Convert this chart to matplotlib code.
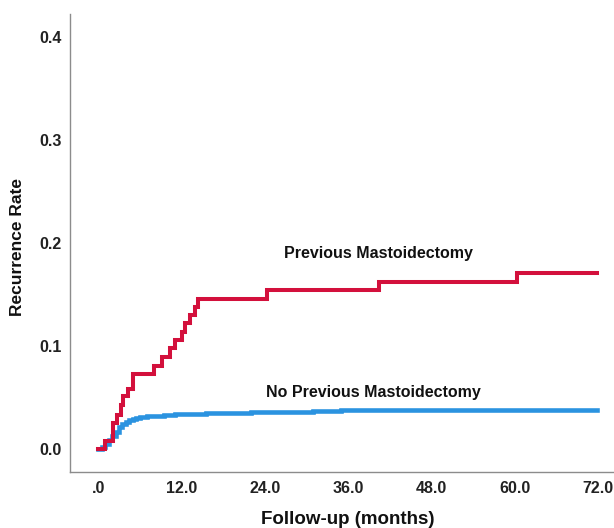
import matplotlib
matplotlib.use("Agg")
import matplotlib.pyplot as plt

plt.rcParams['font.family'] = ['Liberation Sans', 'DejaVu Sans']

# Previous Mastoidectomy (cumulative recurrence, step function)
red_t = [0, 0.98, 2.18, 2.67, 3.29, 3.62, 4.34, 5.06, 8.04, 9.15, 10.35, 11.07,
         12.03, 12.5, 13.2, 13.9, 14.4, 24.3, 40.5, 60.3, 71.9]
red_v = [0, 0.008, 0.025, 0.033, 0.043, 0.051, 0.058, 0.073, 0.081, 0.089, 0.098,
         0.106, 0.114, 0.122, 0.130, 0.138, 0.146, 0.154, 0.162, 0.171, 0.171]

# No Previous Mastoidectomy
blue_t = [0, 0.5, 1.0, 1.5, 2.0, 2.5, 3.0, 3.5, 4.0, 4.5, 5.0, 5.5, 6.0, 7.0, 8.0,
          9.5, 11.0, 14.5, 15.5, 22.0, 31.0, 35.0, 71.9]
blue_v = [0, 0.002, 0.005, 0.009, 0.013, 0.017, 0.021, 0.024, 0.026, 0.028, 0.029,
          0.030, 0.031, 0.032, 0.0325, 0.033, 0.0335, 0.034, 0.035, 0.036, 0.037,
          0.0378, 0.0378]

x_ticks = [0, 12, 24, 36, 48, 60, 72]
x_labels = ['.0', '12.0', '24.0', '36.0', '48.0', '60.0', '72.0']
y_ticks = [0.0, 0.1, 0.2, 0.3, 0.4]
y_labels = ['0.0', '0.1', '0.2', '0.3', '0.4']

fig = plt.figure(figsize=(6.14, 5.28), dpi=100)
ax = fig.add_axes([0.114, 0.107, 0.886, 0.8665])

ax.step(blue_t, blue_v, where='post', color='#2b93e0', lw=3.3, solid_joinstyle='miter', zorder=2)
ax.step(red_t, red_v, where='post', color='#d3103c', lw=2.9, solid_joinstyle='miter', zorder=3)

ax.set_xlim(-4.06, 74.3)
ax.set_ylim(-0.0218, 0.422)
ax.set_xticks(x_ticks)
ax.set_xticklabels(x_labels)
ax.set_yticks(y_ticks)
ax.set_yticklabels(y_labels)
ax.tick_params(length=0, labelsize=11.5)
ax.tick_params(axis='x', pad=7)
ax.tick_params(axis='y', pad=6)
for lab in ax.get_xticklabels() + ax.get_yticklabels():
    lab.set_fontweight('bold')
    lab.set_color('#222222')

for s in ['top', 'right']:
    ax.spines[s].set_visible(False)
for s in ['left', 'bottom']:
    ax.spines[s].set_color('#8c8c8c')
    ax.spines[s].set_linewidth(1.0)

fig.text(18 / 614, 1 - 247 / 528, 'Recurrence Rate', rotation=90, ha='center', va='center',
         fontsize=12.5, fontweight='bold', color='#111111')
fig.text(348 / 614, 1 - 520 / 528, 'Follow-up (months)', ha='center', va='center',
         fontsize=13.5, fontweight='bold', color='#111111')

ax.text(40.4, 0.190, 'Previous Mastoidectomy', ha='center', va='center',
        fontsize=11.5, fontweight='bold', color='#111111')
ax.text(39.6, 0.0545, 'No Previous Mastoidectomy', ha='center', va='center',
        fontsize=11.5, fontweight='bold', color='#111111')

fig.savefig('out.png', dpi=100)
